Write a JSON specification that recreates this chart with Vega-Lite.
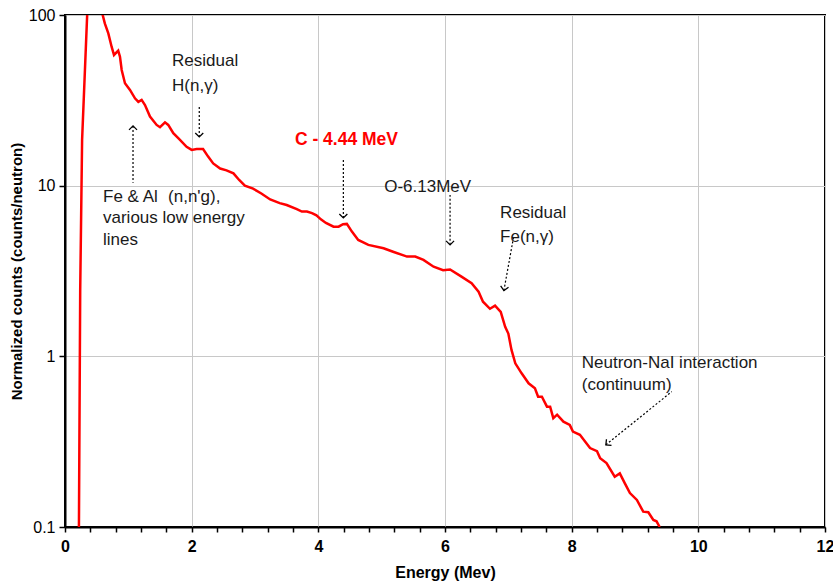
{
  "$schema": "https://vega.github.io/schema/vega-lite/v6.json",
  "width": 760,
  "height": 512,
  "autosize": {"type": "none"},
  "padding": {"left": 65, "top": 15, "right": 8, "bottom": 61},
  "background": "white",
  "config": {
    "view": {"stroke": "black", "strokeWidth": 2},
    "font": "Liberation Sans"
  },
  "data": {
    "values": [
      {"kind": "spectrum", "x": 0.215, "y": 0.08},
      {"kind": "spectrum", "x": 0.22, "y": 0.1},
      {"kind": "spectrum", "x": 0.24, "y": 2.45},
      {"kind": "spectrum", "x": 0.27, "y": 18.5},
      {"kind": "spectrum", "x": 0.35, "y": 100},
      {"kind": "spectrum", "x": 0.45, "y": 250},
      {"kind": "spectrum", "x": 0.595, "y": 100},
      {"kind": "spectrum", "x": 0.63, "y": 89},
      {"kind": "spectrum", "x": 0.684, "y": 78},
      {"kind": "spectrum", "x": 0.737, "y": 65},
      {"kind": "spectrum", "x": 0.774, "y": 58.3},
      {"kind": "spectrum", "x": 0.84, "y": 61.8},
      {"kind": "spectrum", "x": 0.868, "y": 57},
      {"kind": "spectrum", "x": 0.895, "y": 47.6},
      {"kind": "spectrum", "x": 0.947, "y": 39.8},
      {"kind": "spectrum", "x": 1.026, "y": 36.4},
      {"kind": "spectrum", "x": 1.105, "y": 32.5},
      {"kind": "spectrum", "x": 1.158, "y": 31},
      {"kind": "spectrum", "x": 1.21, "y": 31.8},
      {"kind": "spectrum", "x": 1.263, "y": 29.7},
      {"kind": "spectrum", "x": 1.342, "y": 25.4},
      {"kind": "spectrum", "x": 1.447, "y": 22.7},
      {"kind": "spectrum", "x": 1.5, "y": 22},
      {"kind": "spectrum", "x": 1.579, "y": 23.5},
      {"kind": "spectrum", "x": 1.63, "y": 22.7},
      {"kind": "spectrum", "x": 1.71, "y": 20.3},
      {"kind": "spectrum", "x": 1.8, "y": 18.8},
      {"kind": "spectrum", "x": 1.92, "y": 16.9},
      {"kind": "spectrum", "x": 2.0, "y": 16.2},
      {"kind": "spectrum", "x": 2.08, "y": 16.4},
      {"kind": "spectrum", "x": 2.18, "y": 16.4},
      {"kind": "spectrum", "x": 2.26, "y": 14.8},
      {"kind": "spectrum", "x": 2.34, "y": 13.5},
      {"kind": "spectrum", "x": 2.45, "y": 12.6},
      {"kind": "spectrum", "x": 2.55, "y": 12.3},
      {"kind": "spectrum", "x": 2.66, "y": 11.8},
      {"kind": "spectrum", "x": 2.75, "y": 10.8},
      {"kind": "spectrum", "x": 2.84, "y": 10.0},
      {"kind": "spectrum", "x": 2.97, "y": 9.6},
      {"kind": "spectrum", "x": 3.1, "y": 9.0},
      {"kind": "spectrum", "x": 3.24, "y": 8.3},
      {"kind": "spectrum", "x": 3.39, "y": 7.9},
      {"kind": "spectrum", "x": 3.5, "y": 7.7},
      {"kind": "spectrum", "x": 3.66, "y": 7.28},
      {"kind": "spectrum", "x": 3.74, "y": 7.05},
      {"kind": "spectrum", "x": 3.82, "y": 7.05},
      {"kind": "spectrum", "x": 3.9, "y": 6.9},
      {"kind": "spectrum", "x": 3.97, "y": 6.7},
      {"kind": "spectrum", "x": 4.04, "y": 6.35},
      {"kind": "spectrum", "x": 4.12, "y": 6.05},
      {"kind": "spectrum", "x": 4.24, "y": 5.75},
      {"kind": "spectrum", "x": 4.32, "y": 5.75},
      {"kind": "spectrum", "x": 4.39, "y": 5.95},
      {"kind": "spectrum", "x": 4.45, "y": 5.97},
      {"kind": "spectrum", "x": 4.53, "y": 5.38},
      {"kind": "spectrum", "x": 4.63, "y": 4.81},
      {"kind": "spectrum", "x": 4.79, "y": 4.5},
      {"kind": "spectrum", "x": 5.03, "y": 4.3},
      {"kind": "spectrum", "x": 5.18, "y": 4.1},
      {"kind": "spectrum", "x": 5.4, "y": 3.84},
      {"kind": "spectrum", "x": 5.53, "y": 3.84},
      {"kind": "spectrum", "x": 5.66, "y": 3.67},
      {"kind": "spectrum", "x": 5.82, "y": 3.35},
      {"kind": "spectrum", "x": 5.97, "y": 3.2},
      {"kind": "spectrum", "x": 6.08, "y": 3.23},
      {"kind": "spectrum", "x": 6.26, "y": 2.93},
      {"kind": "spectrum", "x": 6.42, "y": 2.68},
      {"kind": "spectrum", "x": 6.53, "y": 2.39},
      {"kind": "spectrum", "x": 6.6, "y": 2.09},
      {"kind": "spectrum", "x": 6.71, "y": 1.9},
      {"kind": "spectrum", "x": 6.79, "y": 1.98},
      {"kind": "spectrum", "x": 6.88, "y": 1.82},
      {"kind": "spectrum", "x": 6.95, "y": 1.49},
      {"kind": "spectrum", "x": 7.0, "y": 1.36},
      {"kind": "spectrum", "x": 7.05, "y": 1.09},
      {"kind": "spectrum", "x": 7.11, "y": 0.91},
      {"kind": "spectrum", "x": 7.21, "y": 0.795},
      {"kind": "spectrum", "x": 7.32, "y": 0.695},
      {"kind": "spectrum", "x": 7.42, "y": 0.65},
      {"kind": "spectrum", "x": 7.47, "y": 0.58},
      {"kind": "spectrum", "x": 7.53, "y": 0.58},
      {"kind": "spectrum", "x": 7.61, "y": 0.507},
      {"kind": "spectrum", "x": 7.66, "y": 0.507},
      {"kind": "spectrum", "x": 7.71, "y": 0.434},
      {"kind": "spectrum", "x": 7.77, "y": 0.455},
      {"kind": "spectrum", "x": 7.87, "y": 0.414},
      {"kind": "spectrum", "x": 7.97, "y": 0.396},
      {"kind": "spectrum", "x": 8.02, "y": 0.362},
      {"kind": "spectrum", "x": 8.13, "y": 0.347},
      {"kind": "spectrum", "x": 8.29, "y": 0.29},
      {"kind": "spectrum", "x": 8.4, "y": 0.278},
      {"kind": "spectrum", "x": 8.45, "y": 0.253},
      {"kind": "spectrum", "x": 8.55, "y": 0.237},
      {"kind": "spectrum", "x": 8.68, "y": 0.197},
      {"kind": "spectrum", "x": 8.76, "y": 0.206},
      {"kind": "spectrum", "x": 8.84, "y": 0.18},
      {"kind": "spectrum", "x": 8.92, "y": 0.158},
      {"kind": "spectrum", "x": 9.03, "y": 0.144},
      {"kind": "spectrum", "x": 9.13, "y": 0.123},
      {"kind": "spectrum", "x": 9.21, "y": 0.122},
      {"kind": "spectrum", "x": 9.29, "y": 0.11},
      {"kind": "spectrum", "x": 9.34, "y": 0.108},
      {"kind": "spectrum", "x": 9.39, "y": 0.1},
      {"kind": "note", "text": "Residual", "x": 1.69, "y": 53.8},
      {"kind": "note", "text": "H(n,γ)", "x": 1.69, "y": 38.4},
      {"kind": "note", "text": "Fe & Al", "x": 0.6, "y": 8.59},
      {"kind": "note", "text": "(n,n'g),", "x": 1.627, "y": 8.59},
      {"kind": "note", "text": "various low energy", "x": 0.6, "y": 6.47},
      {"kind": "note", "text": "lines", "x": 0.6, "y": 4.81},
      {"kind": "note", "text": "O-6.13MeV", "x": 5.04, "y": 9.83},
      {"kind": "note", "text": "Residual", "x": 6.87, "y": 6.92},
      {"kind": "note", "text": "Fe(n,γ)", "x": 6.87, "y": 5.0},
      {"kind": "note", "text": "Neutron-NaI interaction", "x": 8.16, "y": 0.915},
      {"kind": "note", "text": "(continuum)", "x": 8.16, "y": 0.68},
      {"kind": "rednote", "text": "C - 4.44 MeV", "x": 3.63, "y": 18.5},
      {"kind": "arrow", "id": "H", "x": 2.12, "y": 19.3, "tx": 2.12, "ty": 29.7},
      {"kind": "arrow", "id": "FeAl", "x": 1.074, "y": 22.4, "tx": 1.074, "ty": 10.4},
      {"kind": "arrow", "id": "C", "x": 4.395, "y": 6.47, "tx": 4.395, "ty": 14.2},
      {"kind": "arrow", "id": "O", "x": 6.08, "y": 4.5, "tx": 6.08, "ty": 8.83},
      {"kind": "arrow", "id": "Fe", "x": 6.93, "y": 2.43, "tx": 7.08, "ty": 4.94},
      {"kind": "arrow", "id": "NaI", "x": 8.54, "y": 0.303, "tx": 9.58, "ty": 0.621}
    ]
  },
  "encoding": {
    "x": {
      "field": "x",
      "type": "quantitative",
      "title": "Energy (Mev)",
      "scale": {"domain": [0, 12], "nice": false},
      "axis": {
        "values": [0, 0.4, 0.8, 1.2, 1.6, 2, 2.4, 2.8, 3.2, 3.6, 4, 4.4, 4.8, 5.2, 5.6, 6, 6.4, 6.8, 7.2, 7.6, 8, 8.4, 8.8, 9.2, 9.6, 10, 10.4, 10.8, 11.2, 11.6, 12],
        "labelExpr": "datum.value % 2 === 0 ? format(datum.value, 'd') : ''",
        "labelFlush": false,
        "labelOverlap": false,
        "labelFontSize": 16,
        "labelFontWeight": "bold",
        "labelColor": "black",
        "labelPadding": 6,
        "grid": true,
        "gridColor": "#c8c8c8",
        "gridOpacity": {"condition": {"test": "datum.value % 2 === 0", "value": 1}, "value": 0},
        "domainColor": "black",
        "domainWidth": 2,
        "ticks": true,
        "tickColor": "black",
        "tickWidth": 1.5,
        "tickSize": 5,
        "titleFontSize": 16,
        "titleFontWeight": "bold",
        "titleColor": "black",
        "titlePadding": 10
      }
    },
    "y": {
      "field": "y",
      "type": "quantitative",
      "title": "Normalized counts (counts/neutron)",
      "scale": {"type": "log", "domain": [0.1, 100], "nice": false},
      "axis": {
        "values": [0.1, 1, 10, 100],
        "format": "~g",
        "labelFlush": false,
        "labelOverlap": false,
        "labelFontSize": 16,
        "labelColor": "black",
        "labelPadding": 4,
        "grid": true,
        "gridColor": "#c8c8c8",
        "domainColor": "black",
        "domainWidth": 2,
        "ticks": true,
        "tickColor": "black",
        "tickWidth": 1.5,
        "tickSize": 6,
        "titleFontSize": 15,
        "titleFontWeight": "bold",
        "titleColor": "black",
        "titlePadding": 4
      }
    }
  },
  "layer": [
    {
      "transform": [{"filter": "datum.kind === 'spectrum'"}],
      "mark": {"type": "line", "color": "#ff0000", "strokeWidth": 2.5, "clip": true}
    },
    {
      "transform": [{"filter": "datum.kind === 'arrow'"}],
      "mark": {"type": "rule", "color": "black", "strokeWidth": 1.2, "strokeDash": [2, 2]},
      "encoding": {
        "x2": {"field": "tx"},
        "y2": {"field": "ty"}
      }
    },
    {
      "transform": [{"filter": "datum.id === 'H' || datum.id === 'C' || datum.id === 'O'"}],
      "mark": {"type": "point", "shape": "M-1,1L0,0L1,1", "filled": false, "stroke": "black", "strokeWidth": 1.3, "size": 64, "angle": 180, "opacity": 1}
    },
    {
      "transform": [{"filter": "datum.id === 'FeAl'"}],
      "mark": {"type": "point", "shape": "M-1,1L0,0L1,1", "filled": false, "stroke": "black", "strokeWidth": 1.3, "size": 64, "angle": 0, "opacity": 1}
    },
    {
      "transform": [{"filter": "datum.id === 'Fe'"}],
      "mark": {"type": "point", "shape": "M-1,1L0,0L1,1", "filled": false, "stroke": "black", "strokeWidth": 1.3, "size": 64, "angle": 190, "opacity": 1}
    },
    {
      "transform": [{"filter": "datum.id === 'NaI'"}],
      "mark": {"type": "point", "shape": "M-1,1L0,0L1,1", "filled": false, "stroke": "black", "strokeWidth": 1.3, "size": 64, "angle": 231, "opacity": 1}
    },
    {
      "transform": [{"filter": "datum.kind === 'note'"}],
      "mark": {"type": "text", "align": "left", "baseline": "middle", "fontSize": 17, "font": "Liberation Sans", "color": "#1a1a1a"},
      "encoding": {"text": {"field": "text"}}
    },
    {
      "transform": [{"filter": "datum.kind === 'rednote'"}],
      "mark": {"type": "text", "align": "left", "baseline": "middle", "fontSize": 17.5, "font": "Liberation Sans", "fontWeight": "bold", "color": "#ff0000"},
      "encoding": {"text": {"field": "text"}}
    }
  ]
}
